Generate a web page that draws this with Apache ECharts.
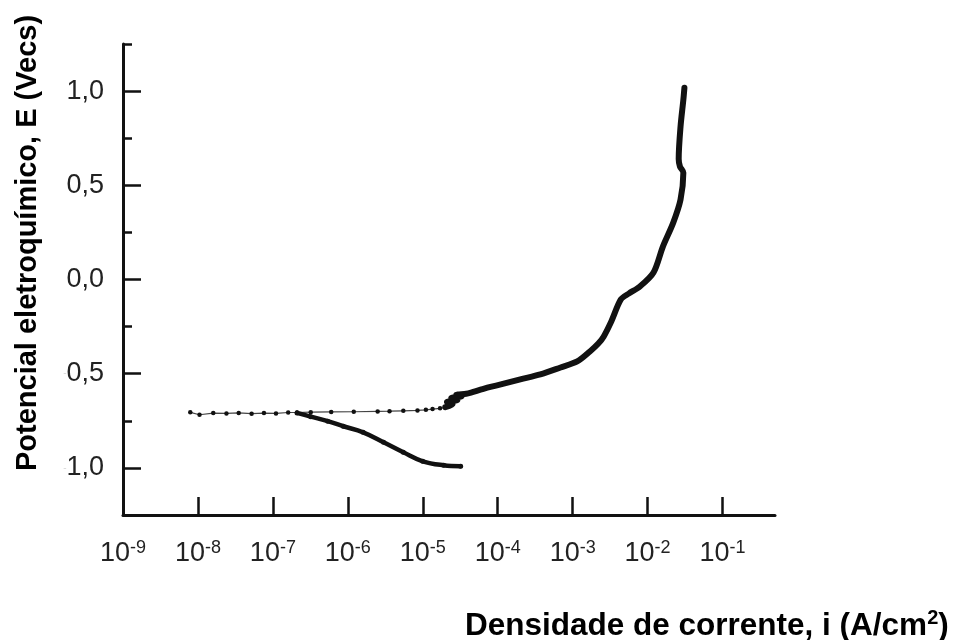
<!DOCTYPE html>
<html>
<head>
<meta charset="utf-8">
<script src="https://cdn.jsdelivr.net/npm/echarts@6/dist/echarts.min.js"></script>
<style>
  html, body { margin: 0; padding: 0; background: #ffffff; }
  #chart { width: 963px; height: 640px; }
</style>
</head>
<body>
<div id="chart"></div>
<script>
// Potentiodynamic polarization curve: potential E (V) against current density i (A/cm²)

// decade exponents shown on the current-density axis
const xLabelExponents = [-9, -8, -7, -6, -5, -4, -3, -2, -1];
const xTickExponents = [-8, -7, -6, -5, -4, -3, -2, -1];
// labelled potentials
const yLabelValues = [-1.0, -0.5, 0.0, 0.5, 1.0];

// near-horizontal branch around the corrosion potential (A/cm², V)
const flatI = [7.9e-9, 1.05e-8, 1.6e-8, 2.4e-8, 3.5e-8, 5.2e-8, 7.6e-8, 1.1e-7, 1.6e-7, 2.1e-7,
               3.2e-7, 6.0e-7, 1.2e-6, 2.5e-6, 3.6e-6, 5.5e-6, 8.5e-6, 1.1e-5, 1.35e-5, 1.7e-5, 2.0e-5];
const flatE = [-0.705, -0.718, -0.709, -0.711, -0.708, -0.712, -0.709, -0.711, -0.706, -0.706,
               -0.704, -0.703, -0.702, -0.700, -0.699, -0.697, -0.695, -0.692, -0.688, -0.684, -0.678];

// anodic branch
const anodicI = [2.0e-5, 2.5e-5, 2.1e-5, 2.9e-5, 2.4e-5, 3.3e-5, 2.8e-5, 3.8e-5, 4.4e-5, 5.9e-5,
                 8.0e-5, 1.1e-4, 2.0e-4, 3.7e-4, 6.9e-4, 1.15e-3, 1.7e-3, 2.2e-3, 2.6e-3, 3.3e-3,
                 4.4e-3, 5.6e-3, 7.9e-3, 1.2e-2, 1.6e-2, 2.2e-2, 2.75e-2, 3.0e-2, 2.7e-2, 2.6e-2,
                 2.75e-2, 3.0e-2, 3.1e-2];
const anodicE = [-0.678, -0.662, -0.650, -0.640, -0.628, -0.620, -0.612, -0.606, -0.600, -0.585,
                 -0.570, -0.557, -0.530, -0.504, -0.467, -0.435, -0.382, -0.340, -0.302, -0.220,
                 -0.106, -0.075, -0.037, 0.037, 0.175, 0.302, 0.424, 0.567, 0.600, 0.640,
                 0.811, 0.954, 1.018];

// cathodic branch
const cathodicI = [2.1e-7, 3.2e-7, 5.4e-7, 8.7e-7, 1.6e-6, 3.0e-6, 5.5e-6, 1.0e-5, 1.9e-5, 3.2e-5];
const cathodicE = [-0.708, -0.728, -0.752, -0.779, -0.811, -0.864, -0.917, -0.965, -0.986, -0.991];

const toPoints = (iArr, eArr) => iArr.map((v, k) => [Math.log10(v), eArr[k]]);

const axisColor = '#111111';
const labelColor = '#222222';
const labelFont = 'Liberation Sans, Arial, Helvetica, sans-serif';

const chart = echarts.init(document.getElementById('chart'), null, { renderer: 'canvas' });

chart.setOption({
  backgroundColor: '#ffffff',
  animation: false,
  grid: { left: 123, right: 188, top: 44, bottom: 125, containLabel: false, outerBoundsMode: 'none' },
  xAxis: {
    type: 'value',
    min: -9,
    max: -0.3,
    interval: 1,
    splitLine: { show: false },
    axisLine: { show: true, onZero: false, lineStyle: { color: axisColor, width: 3 } },
    axisTick: { show: true, inside: true, length: 18, customValues: xTickExponents,
                lineStyle: { color: axisColor, width: 2.5 } },
    axisLabel: {
      customValues: xLabelExponents,
      margin: 24,
      color: labelColor,
      fontFamily: labelFont,
      formatter: v => '{b|10}{s|' + v + '}',
      rich: {
        b: { fontSize: 27, fontFamily: labelFont, color: labelColor, lineHeight: 30 },
        s: { fontSize: 18, fontFamily: labelFont, color: labelColor, verticalAlign: 'top', lineHeight: 18 }
      }
    }
  },
  yAxis: [
    {
      type: 'value',
      min: -1.25,
      max: 1.25,
      interval: 0.25,
      splitLine: { show: false },
      axisLine: { show: true, onZero: false, lineStyle: { color: axisColor, width: 3 } },
      axisTick: { show: true, inside: true, length: 9, lineStyle: { color: axisColor, width: 2.5 } },
      axisLabel: {
        customValues: yLabelValues,
        margin: 19,
        color: labelColor,
        fontFamily: labelFont,
        fontSize: 27,
        formatter: v => {
          const txt = Math.abs(v).toFixed(1).replace('.', ',');
          return v < 0 ? '{m|-}{n|' + txt + '}' : '{n|' + txt + '}';
        },
        rich: {
          m: { fontSize: 10, color: '#d8d8d8', fontFamily: labelFont },
          n: { fontSize: 27, color: labelColor, fontFamily: labelFont }
        }
      }
    },
    {
      // longer ticks at the labelled potentials
      type: 'value',
      min: -1.25,
      max: 1.25,
      interval: 0.25,
      position: 'left',
      splitLine: { show: false },
      axisLine: { show: false },
      axisLabel: { show: false },
      axisTick: { show: true, inside: true, length: 18, customValues: yLabelValues,
                  lineStyle: { color: axisColor, width: 2.5 } }
    }
  ],
  series: [
    {
      name: 'flat',
      type: 'line',
      data: toPoints(flatI, flatE),
      showSymbol: true,
      symbol: 'circle',
      symbolSize: 4.5,
      itemStyle: { color: '#111111' },
      lineStyle: { color: '#444444', width: 1.2 },
      z: 3
    },
    {
      name: 'anodic',
      type: 'line',
      data: toPoints(anodicI, anodicE),
      smooth: 0.3,
      showSymbol: false,
      lineStyle: { color: '#111111', width: 6, cap: 'round', join: 'round' },
      z: 4
    },
    {
      name: 'cathodic',
      type: 'line',
      data: toPoints(cathodicI, cathodicE),
      smooth: 0.4,
      showSymbol: true,
      symbol: 'circle',
      symbolSize: 5,
      itemStyle: { color: '#111111' },
      lineStyle: { color: '#111111', width: 4.5, cap: 'round', join: 'round' },
      z: 4
    }
  ],
  graphic: [
    {
      type: 'text',
      x: 28,
      y: 243,
      rotation: Math.PI / 2,
      style: {
        text: 'Potencial eletroquímico, E (Vecs)',
        font: 'bold 29px ' + labelFont,
        fill: '#000000',
        align: 'center',
        verticalAlign: 'middle'
      }
    },
    {
      type: 'text',
      x: 465,
      y: 626,
      style: {
        text: '{t|Densidade de corrente, i (A/cm}{s|2}{t|)}',
        align: 'left',
        verticalAlign: 'middle',
        rich: {
          t: { font: 'bold 31.5px ' + labelFont, fill: '#000000', lineHeight: 36 },
          s: { font: 'bold 20px ' + labelFont, fill: '#000000', verticalAlign: 'top', lineHeight: 20 }
        }
      }
    }
  ]
});
</script>
</body>
</html>
